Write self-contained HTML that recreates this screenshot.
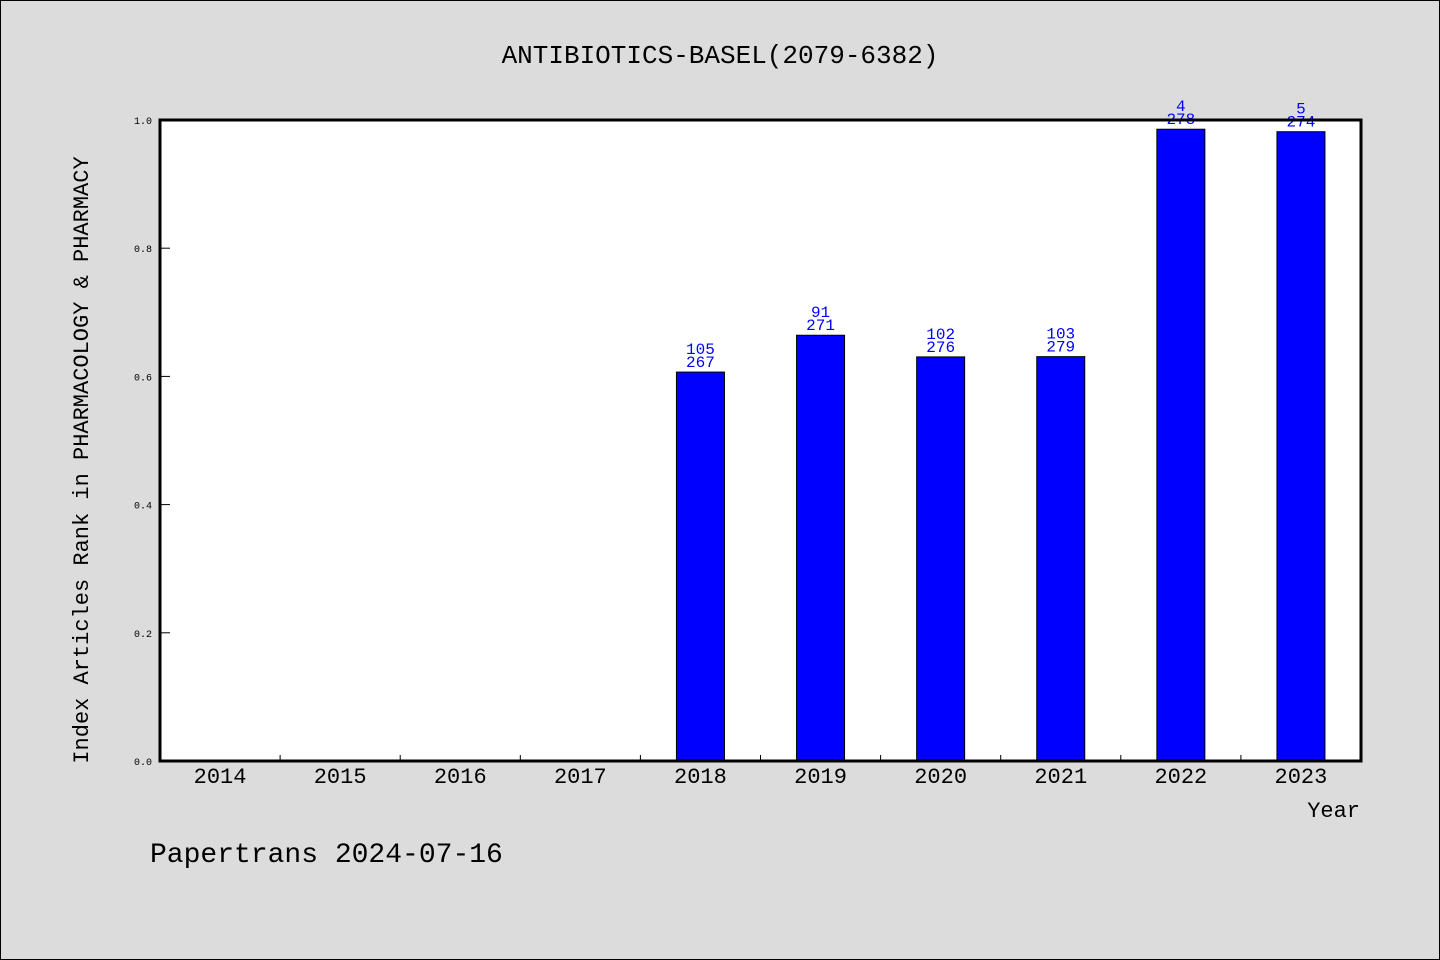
<!DOCTYPE html>
<html><head><meta charset="utf-8"><style>
body{margin:0;background:#dcdcdc;}
svg{display:block;font-family:"WenQuanYi Zen Hei","Liberation Mono",monospace;}
</style></head><body>
<svg width="1440" height="960">
<rect x="0.5" y="0.5" width="1439" height="959" fill="#dcdcdc" stroke="#000"/>
<text x="720" y="63" font-size="26" text-anchor="middle">ANTIBIOTICS-BASEL(2079-6382)</text>
<rect x="160" y="120" width="1201" height="641" fill="#fff"/>
<g id="ticks"></g>
<g id="bars"></g>
<rect x="160" y="120" width="1201" height="641" fill="none" stroke="#000" stroke-width="3"/>
<text transform="translate(88,460) rotate(-90)" font-size="22" text-anchor="middle">Index Articles Rank in PHARMACOLOGY &amp; PHARMACY</text>
<text x="1360" y="817" font-size="22" text-anchor="end">Year</text>
<text x="150" y="862" font-size="28">Papertrans 2024-07-16</text>
</svg>
<script>
const years=["2014","2015","2016","2017","2018","2019","2020","2021","2022","2023"];
const ranks=[null,null,null,null,105,91,102,103,4,5];
const totals=[null,null,null,null,267,271,276,279,278,274];
const yTicks=[0,0.2,0.4,0.6,0.8,1.0];
const NS="http://www.w3.org/2000/svg";
const L=160,R=1361,T=120,B=761;
const band=(R-L)/years.length;
const x=i=>L+band*i+band/2;
const y=v=>B-v*(B-T);
function mk(tag,attrs,parent){const e=document.createElementNS(NS,tag);for(const k in attrs)e.setAttribute(k,attrs[k]);parent.appendChild(e);return e;}
const tg=document.getElementById('ticks'),bg=document.getElementById('bars');
yTicks.forEach(v=>{
 const l=mk('line',{x1:L,x2:L+10,y1:y(v),y2:y(v),stroke:'#000'},tg);
 
 
 const t=mk('text',{x:L-8,y:y(v)+4,'font-size':10,'text-anchor':'end'},tg);t.textContent=v.toFixed(1);
 
 
});
years.forEach((yr,i)=>{
 if(i>0){const l=mk('line',{x1:L+band*i,x2:L+band*i,y1:B,y2:B-6,stroke:'#000'},tg);
 
 }
 const t=mk('text',{x:x(i),y:B+22,'font-size':22,'text-anchor':'middle'},tg);t.textContent=yr;
 
 
 if(ranks[i]!=null){
  const v=1-ranks[i]/totals[i];
  const r=mk('rect',{x:x(i)-24,y:y(v),width:48,height:B-y(v),fill:'#0000ff',stroke:'#000'},bg);
  
  
  const a=mk('text',{x:x(i),y:y(v)-18,'font-size':16,'text-anchor':'middle',fill:'#0000ff'},bg);a.textContent=ranks[i];
  
  
  const b=mk('text',{x:x(i),y:y(v)-5,'font-size':16,'text-anchor':'middle',fill:'#0000ff'},bg);b.textContent=totals[i];
  
  
 }
});
</script>
</body></html>
